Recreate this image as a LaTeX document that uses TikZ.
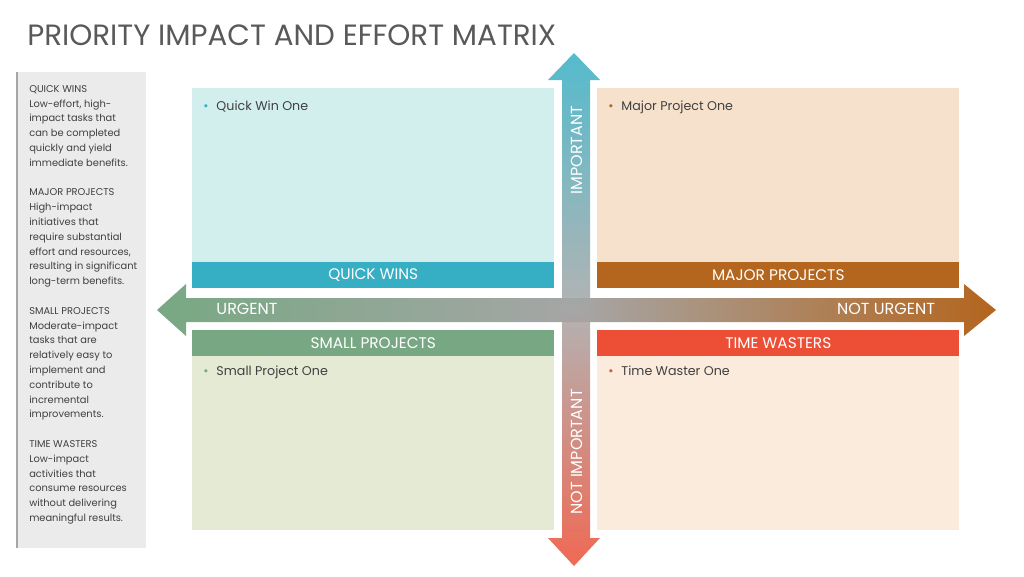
\documentclass[tikz,border=0pt]{standalone}
\usepackage{fontspec}
\setmainfont{Poppins}
\usetikzlibrary{positioning}
\definecolor{qwbar}{HTML}{36AFC4}
\definecolor{qwfill}{HTML}{D2EFEE}
\definecolor{mpbar}{HTML}{B4651E}
\definecolor{mpfill}{HTML}{F6E2CC}
\definecolor{spbar}{HTML}{78A883}
\definecolor{spfill}{HTML}{E4EAD4}
\definecolor{twbar}{HTML}{EC4F36}
\definecolor{twfill}{HTML}{FBEBDC}
\definecolor{txt}{HTML}{404040}
\definecolor{ttl}{HTML}{595959}
\tikzset{
  quad/.style={minimum width=271.5pt, minimum height=150pt, inner sep=0pt, anchor=north west},
  bar/.style={minimum width=271.5pt, minimum height=19.5pt, inner sep=0pt, anchor=north west,
    text=white, font=\fontsize{11.5}{12}\selectfont},
  item/.style={anchor=north west, inner sep=0pt, text=txt, font=\fontsize{9.5}{11}\selectfont},
  axis/.style={text=white, inner sep=0pt, font=\fontsize{12}{12}\selectfont}
}
\begin{document}
\begin{tikzpicture}[x=0.75pt,y=-0.75pt]
  \useasboundingbox (0,0) rectangle (1024,576);
  % Titel
  \node[anchor=base west, inner sep=0pt, text=ttl, font=\fontsize{22}{24}\selectfont]
    (title) at (27,45) {PRIORITY IMPACT AND EFFORT MATRIX};
  % Legende links
  \fill[black!8] (16,72) rectangle (146,548);
  \fill[black!35] (16,72) rectangle (18,548);
  \node[anchor=north west, inner sep=0pt, text=txt, align=left,
    font=\fontsize{7.4}{11.1}\selectfont] (legend) at (29,85)
    {QUICK WINS\\Low-effort, high-\\impact tasks that\\can be completed\\quickly and yield\\immediate benefits.\\[11.1pt]
     MAJOR PROJECTS\\High-impact\\initiatives that\\require substantial\\effort and resources,\\resulting in significant\\long-term benefits.\\[11.1pt]
     SMALL PROJECTS\\Moderate-impact\\tasks that are\\relatively easy to\\implement and\\contribute to\\incremental\\improvements.\\[11.1pt]
     TIME WASTERS\\Low-impact\\activities that\\consume resources\\without delivering\\meaningful results.};
  % Quadranten
  \node[quad, fill=qwfill] (qw) at (192,88) {};
  \node[quad, fill=mpfill] (mp) at (597,88) {};
  \node[quad, fill=spfill] (sp) at (192,330) {};
  \node[quad, fill=twfill] (tw) at (597,330) {};
  \node[bar, fill=qwbar] (qwbar) at (192,262) {QUICK WINS};
  \node[bar, fill=mpbar] (mpbar) at (597,262) {MAJOR PROJECTS};
  \node[bar, fill=spbar] (spbar) at (192,330) {SMALL PROJECTS};
  \node[bar, fill=twbar] (twbar) at (597,330) {TIME WASTERS};
  \node[item] (qwitem) at (203,101) {{\color{qwbar}\textbullet}\hspace{6pt}Quick Win One};
  \node[item] (mpitem) at (608,101) {{\color{mpbar}\textbullet}\hspace{6pt}Major Project One};
  \node[item] (spitem) at (203,366) {{\color{spbar}\textbullet}\hspace{6pt}Small Project One};
  \node[item] (twitem) at (608,366) {{\color{twbar}\textbullet}\hspace{6pt}Time Waster One};
  % Achsen
  \shade[left color=spbar, right color=mpbar, middle color=black!35]
    (157,310) -- (186,284) -- (186,298) -- (964,298) -- (964,284) -- (996,310)
    -- (964,336) -- (964,322) -- (186,322) -- (186,336) -- cycle;
  \shade[top color=qwbar, bottom color=twbar, middle color=black!35, opacity=0.85]
    (574,53) -- (600,80) -- (590,80) -- (590,538) -- (600,538) -- (574,566)
    -- (548,538) -- (562,538) -- (562,80) -- (548,80) -- cycle;
  \node[axis, rotate=90] (imp) at (577,150) {IMPORTANT};
  \node[axis, rotate=90] (notimp) at (577,452) {NOT IMPORTANT};
  \node[axis] (urg) at (247,309) {URGENT};
  \node[axis] (noturg) at (886,309) {NOT URGENT};
\end{tikzpicture}
\end{document}
